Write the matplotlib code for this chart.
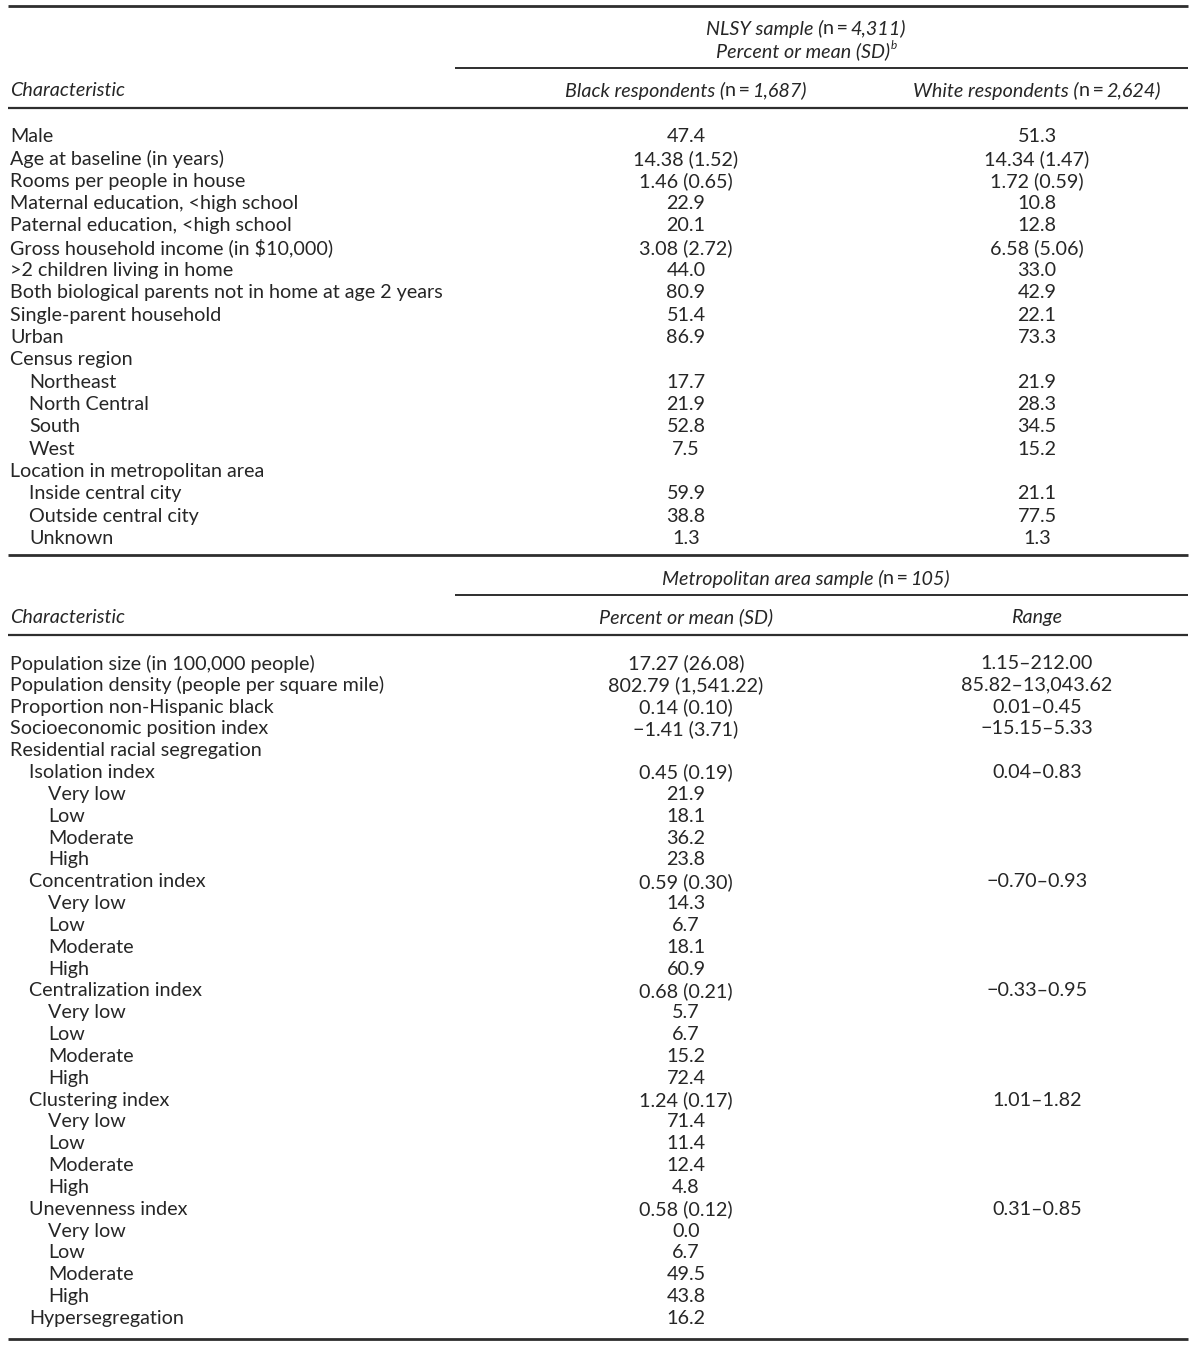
import matplotlib
matplotlib.use("Agg")
import matplotlib.pyplot as plt

# ---- data ----
top_labels = [
    "Male", "Age at baseline (in years)", "Rooms per people in house",
    "Maternal education, <high school", "Paternal education, <high school",
    "Gross household income (in $10,000)", ">2 children living in home",
    "Both biological parents not in home at age 2 years",
    "Single-parent household", "Urban", "Census region",
    "Northeast", "North Central", "South", "West",
    "Location in metropolitan area",
    "Inside central city", "Outside central city", "Unknown",
]
top_indent = [0] * 11 + [1] * 4 + [0] + [1] * 3
black_vals = [
    "47.4", "14.38 (1.52)", "1.46 (0.65)", "22.9", "20.1", "3.08 (2.72)",
    "44.0", "80.9", "51.4", "86.9", "", "17.7", "21.9", "52.8", "7.5", "",
    "59.9", "38.8", "1.3",
]
white_vals = [
    "51.3", "14.34 (1.47)", "1.72 (0.59)", "10.8", "12.8", "6.58 (5.06)",
    "33.0", "42.9", "22.1", "73.3", "", "21.9", "28.3", "34.5", "15.2", "",
    "21.1", "77.5", "1.3",
]

MINUS, DASH = "\u2212", "\u2013"
levels = ["Very low", "Low", "Moderate", "High"]
indices = ["Isolation index", "Concentration index", "Centralization index",
           "Clustering index", "Unevenness index"]
index_means = ["0.45 (0.19)", "0.59 (0.30)", "0.68 (0.21)", "1.24 (0.17)", "0.58 (0.12)"]
index_ranges = [f"0.04{DASH}0.83", f"{MINUS}0.70{DASH}0.93", f"{MINUS}0.33{DASH}0.95",
                f"1.01{DASH}1.82", f"0.31{DASH}0.85"]
level_pcts = [
    ["21.9", "18.1", "36.2", "23.8"],
    ["14.3", "6.7", "18.1", "60.9"],
    ["5.7", "6.7", "15.2", "72.4"],
    ["71.4", "11.4", "12.4", "4.8"],
    ["0.0", "6.7", "49.5", "43.8"],
]

bot_labels = ["Population size (in 100,000 people)",
              "Population density (people per square mile)",
              "Proportion non-Hispanic black", "Socioeconomic position index",
              "Residential racial segregation"]
bot_indent = [0] * 5
bot_means = ["17.27 (26.08)", "802.79 (1,541.22)", "0.14 (0.10)", f"{MINUS}1.41 (3.71)", ""]
bot_ranges = [f"1.15{DASH}212.00", f"85.82{DASH}13,043.62", f"0.01{DASH}0.45",
              f"{MINUS}15.15{DASH}5.33", ""]
for name, m, r, pcts in zip(indices, index_means, index_ranges, level_pcts):
    bot_labels += [name] + levels
    bot_indent += [1] + [2] * 4
    bot_means += [m] + pcts
    bot_ranges += [r] + [""] * 4
bot_labels.append("Hypersegregation")
bot_indent.append(1)
bot_means.append("16.2")
bot_ranges.append("")

# ---- drawing ----
W, H = 1200, 1349
plt.rcParams["font.family"] = ["Lato", "DejaVu Sans"]
FS = 14.2
INK = "#262626"
RULE = "#2e2e2e"

fig = plt.figure(figsize=(W / 100, H / 100), dpi=100)
ax = fig.add_axes([0, 0, 1, 1])
ax.set_xlim(0, W)
ax.set_ylim(H, 0)
ax.axis("off")
renderer = fig.canvas.get_renderer()

X0, XIND = 10, 19
XC1, XC2 = 686, 1037
XMID = 806


def txt(x, y, s, **kw):
    kw.setdefault("fontsize", FS)
    kw.setdefault("va", "center")
    return ax.text(x, y + 1.5, s, color=INK, **kw)


def runs(x, y, parts, size=FS):
    """Draw mixed italic/upright segments centred on x."""
    objs = [txt(0, y, s, style=style, fontsize=size) for s, style in parts]
    widths = [t.get_window_extent(renderer).width for t in objs]
    cur = x - sum(widths) / 2
    for t, w in zip(objs, widths):
        t.set_x(cur)
        cur += w
    return cur


def nlabel(label, num):
    return [(label + " (", "italic"), ("n", "normal"), ("\u2009=\u2009", "normal"),
            (num + ")", "italic")]


# rules
ax.hlines([6, 555, 1339], 8, 1188, color=RULE, lw=2.0)
ax.hlines([108, 635], 8, 1188, color=RULE, lw=1.6)
ax.hlines([68, 595], 455, 1188, color=RULE, lw=1.4)

# top header
runs(XMID, 27, nlabel("NLSY sample", "4,311"))
end = runs(XMID - 3, 50, [("Percent or mean (SD)", "italic")])
txt(end + 1, 44, "b", fontsize=8.5, style="italic")
txt(X0, 89, "Characteristic", style="italic")
runs(XC1, 89, nlabel("Black respondents", "1,687"))
runs(XC2, 89, nlabel("White respondents", "2,624"))

y0, step = 135, 22.33
for i, (lab, ind, b, w) in enumerate(zip(top_labels, top_indent, black_vals, white_vals)):
    y = y0 + i * step
    txt(X0 + ind * XIND, y, lab)
    txt(XC1, y, b, ha="center")
    txt(XC2, y, w, ha="center")

# bottom header
runs(XMID, 577, nlabel("Metropolitan area sample", "105"))
txt(X0, 616, "Characteristic", style="italic")
txt(XC1, 616, "Percent or mean (SD)", style="italic", ha="center")
txt(XC2, 616, "Range", style="italic", ha="center")

y0, step = 662, 21.83
for i, (lab, ind, m, r) in enumerate(zip(bot_labels, bot_indent, bot_means, bot_ranges)):
    y = y0 + i * step
    txt(X0 + ind * XIND, y, lab)
    txt(XC1, y, m, ha="center")
    txt(XC2, y, r, ha="center")

fig.savefig("out.png", dpi=100, facecolor="white")
